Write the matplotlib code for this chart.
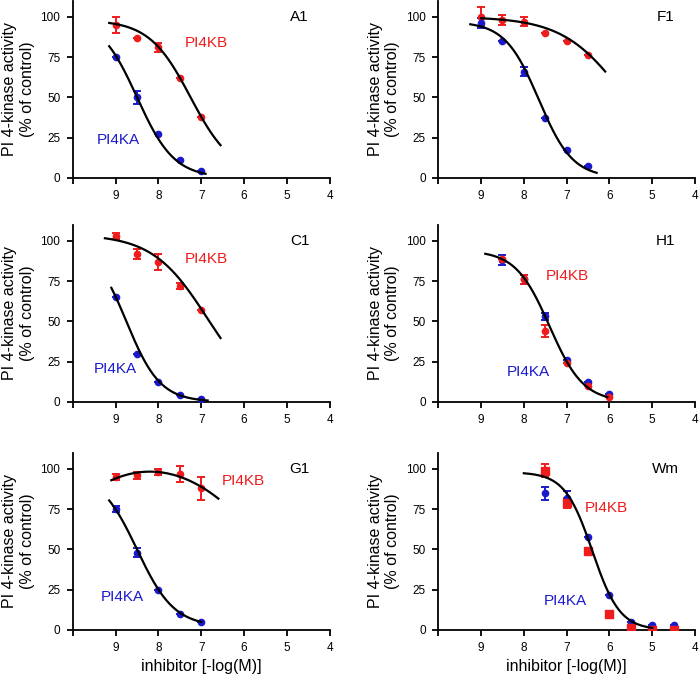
import numpy as np
import matplotlib
matplotlib.use('Agg')
import matplotlib.pyplot as plt

plt.rcParams['font.family'] = ['Liberation Sans', 'DejaVu Sans']

RED = '#ee1c1c'
BLUE = '#1a1acc'

# doses as -log(M)
x5 = [9, 8.5, 8, 7.5, 7]
x6 = [9, 8.5, 8, 7.5, 7, 6.5]
x_h1 = [8.5, 8, 7.5, 7, 6.5, 6]
x_wm = [7.5, 7, 6.5, 6, 5.5, 5, 4.5]

# A1
a1_kb = [95, 87, 81, 62, 38]
a1_kb_err = [5, 0, 3, 0, 0]
a1_ka = [75, 50, 27, 11, 4]
a1_ka_err = [0, 4, 0, 0, 0]
# F1
f1_kb = [100, 98, 97, 90, 85, 76]
f1_kb_err = [6, 3, 3, 0, 0, 0]
f1_ka = [96, 85, 66, 37, 17, 7]
f1_ka_err = [3, 0, 3, 0, 0, 0]
# C1
c1_kb = [103, 92, 87, 72, 57]
c1_kb_err = [2, 3, 5, 2, 0]
c1_ka = [65, 30, 12, 4, 2]
c1_ka_err = [0, 0, 0, 0, 0]
# H1
h1_kb = [89, 76, 44, 24, 10, 3]
h1_kb_err = [0, 3, 4, 0, 0, 0]
h1_ka = [88, 76, 53, 26, 12, 5]
h1_ka_err = [3, 3, 2, 0, 0, 0]
# G1
g1_kb = [95, 96, 98, 97, 88]
g1_kb_err = [2, 2, 2, 5, 7]
g1_ka = [75, 48, 25, 10, 5]
g1_ka_err = [2, 3, 0, 0, 0]
# Wm
wm_kb = [99, 79, 49, 10, 1, 0, 0]
wm_kb_err = [4, 3, 2, 0, 0, 0, 0]
wm_ka = [85, 82, 58, 22, 5, 3, 3]
wm_ka_err = [4, 4, 0, 0, 0, 0, 0]

# fitted curves: (top, bottom, pIC50, hill, x_start, x_end)
a1_kb_fit = (98, 2, 7.25, 0.9, 9.15, 6.55)
a1_ka_fit = (100, 0, 8.5, 1.0, 9.15, 6.9)
f1_kb_fit = (100, 0, 5.62, 0.6, 9.0, 6.1)
f1_ka_fit = (97, 0, 7.65, 1.1, 9.25, 6.3)
c1_kb_fit = (104, 0, 6.86, 0.68, 9.25, 6.55)
c1_ka_fit = (100, 0, 8.75, 1.1, 9.1, 6.85)
h1_fit = (94, 0, 7.4, 1.1, 8.9, 6.05)
g1_ka_fit = (98, 2, 8.5, 1.0, 9.15, 7.0)
wm_fit = (98, 0, 6.4, 1.35, 8.0, 5.0)
g1_kb_range = (9.1, 6.6)


def hill(p):
    top, bottom, pic50, h, xs, xe = p
    xx = np.linspace(xs, xe, 200)
    return xx, bottom + (top - bottom) / (1 + 10 ** ((pic50 - xx) * h))


def pts(ax, x, y, err, color, marker='o', ms=4.5):
    ax.errorbar(x, y, yerr=err, fmt=marker, color=color, ms=ms,
                elinewidth=1.4, capsize=3, capthick=1.4, zorder=3)


def style(ax, label):
    ax.set_xlim(10, 4)
    ax.set_ylim(0, 110)
    ax.set_xticks([10, 9, 8, 7, 6, 5, 4])
    ax.set_xticklabels(['', '9', '8', '7', '6', '5', '4'])
    ax.set_yticks([0, 25, 50, 75, 100])
    ax.spines['top'].set_visible(False)
    ax.spines['right'].set_visible(False)
    ax.spines['left'].set_linewidth(1.3)
    ax.spines['bottom'].set_linewidth(1.3)
    ax.tick_params(direction='out', length=4, width=1.3, labelsize=8.5, pad=5)
    ax.set_ylabel('PI 4-kinase activity\n(% of control)', fontsize=11.5, labelpad=4)
    ax.text(4.7, 100, label, fontsize=11, ha='center', va='center')


fig = plt.figure(figsize=(7, 6.81), dpi=100)
lefts = [0.104, 0.626]
bottoms = [0.739, 0.410, 0.075]
W, H = 0.367, 0.26

axes = {}
names = [['A1', 'F1'], ['C1', 'H1'], ['G1', 'Wm']]
for r in range(3):
    for c in range(2):
        axes[names[r][c]] = fig.add_axes([lefts[c], bottoms[r], W, H])

# A1
ax = axes['A1']
pts(ax, x5, a1_kb, a1_kb_err, RED)
pts(ax, x5, a1_ka, a1_ka_err, BLUE)
ax.plot(*hill(a1_kb_fit), color='k', lw=1.6, zorder=4)
ax.plot(*hill(a1_ka_fit), color='k', lw=1.6, zorder=4)
ax.text(6.88, 84, 'PI4KB', color=RED, fontsize=11, ha='center', va='center')
ax.text(8.93, 23.6, 'PI4KA', color=BLUE, fontsize=11, ha='center', va='center')
style(ax, 'A1')

# F1
ax = axes['F1']
pts(ax, x6, f1_kb, f1_kb_err, RED)
pts(ax, x6, f1_ka, f1_ka_err, BLUE)
ax.plot(*hill(f1_kb_fit), color='k', lw=1.6, zorder=4)
ax.plot(*hill(f1_ka_fit), color='k', lw=1.6, zorder=4)
style(ax, 'F1')

# C1
ax = axes['C1']
pts(ax, x5, c1_kb, c1_kb_err, RED)
pts(ax, x5, c1_ka, c1_ka_err, BLUE)
ax.plot(*hill(c1_kb_fit), color='k', lw=1.6, zorder=4)
ax.plot(*hill(c1_ka_fit), color='k', lw=1.6, zorder=4)
ax.text(6.88, 89, 'PI4KB', color=RED, fontsize=11, ha='center', va='center')
ax.text(9.0, 20.5, 'PI4KA', color=BLUE, fontsize=11, ha='center', va='center')
style(ax, 'C1')

# H1
ax = axes['H1']
pts(ax, x_h1, h1_ka, h1_ka_err, BLUE)
pts(ax, x_h1, h1_kb, h1_kb_err, RED)
ax.plot(*hill(h1_fit), color='k', lw=1.6, zorder=4)
ax.text(6.98, 78, 'PI4KB', color=RED, fontsize=11, ha='center', va='center')
ax.text(7.9, 18.6, 'PI4KA', color=BLUE, fontsize=11, ha='center', va='center')
style(ax, 'H1')

# G1
ax = axes['G1']
pts(ax, x5, g1_kb, g1_kb_err, RED)
pts(ax, x5, g1_ka, g1_ka_err, BLUE)
coef = np.polyfit(x5, g1_kb, 2)
xx = np.linspace(*g1_kb_range, 200)
ax.plot(xx, np.polyval(coef, xx), color='k', lw=1.6, zorder=4)
ax.plot(*hill(g1_ka_fit), color='k', lw=1.6, zorder=4)
ax.text(6.02, 92.6, 'PI4KB', color=RED, fontsize=11, ha='center', va='center')
ax.text(8.84, 20.4, 'PI4KA', color=BLUE, fontsize=11, ha='center', va='center')
style(ax, 'G1')
ax.set_xlabel('inhibitor [-log(M)]', fontsize=11.5, labelpad=3)

# Wm
ax = axes['Wm']
pts(ax, x_wm, wm_ka, wm_ka_err, BLUE)
pts(ax, x_wm, wm_kb, wm_kb_err, RED, marker='s', ms=6)
ax.plot(*hill(wm_fit), color='k', lw=1.6, zorder=4)
ax.text(6.07, 75.8, 'PI4KB', color=RED, fontsize=11, ha='center', va='center')
ax.text(7.02, 18, 'PI4KA', color=BLUE, fontsize=11, ha='center', va='center')
style(ax, 'Wm')
ax.set_xlabel('inhibitor [-log(M)]', fontsize=11.5, labelpad=3)

fig.savefig('out.png', dpi=100)
